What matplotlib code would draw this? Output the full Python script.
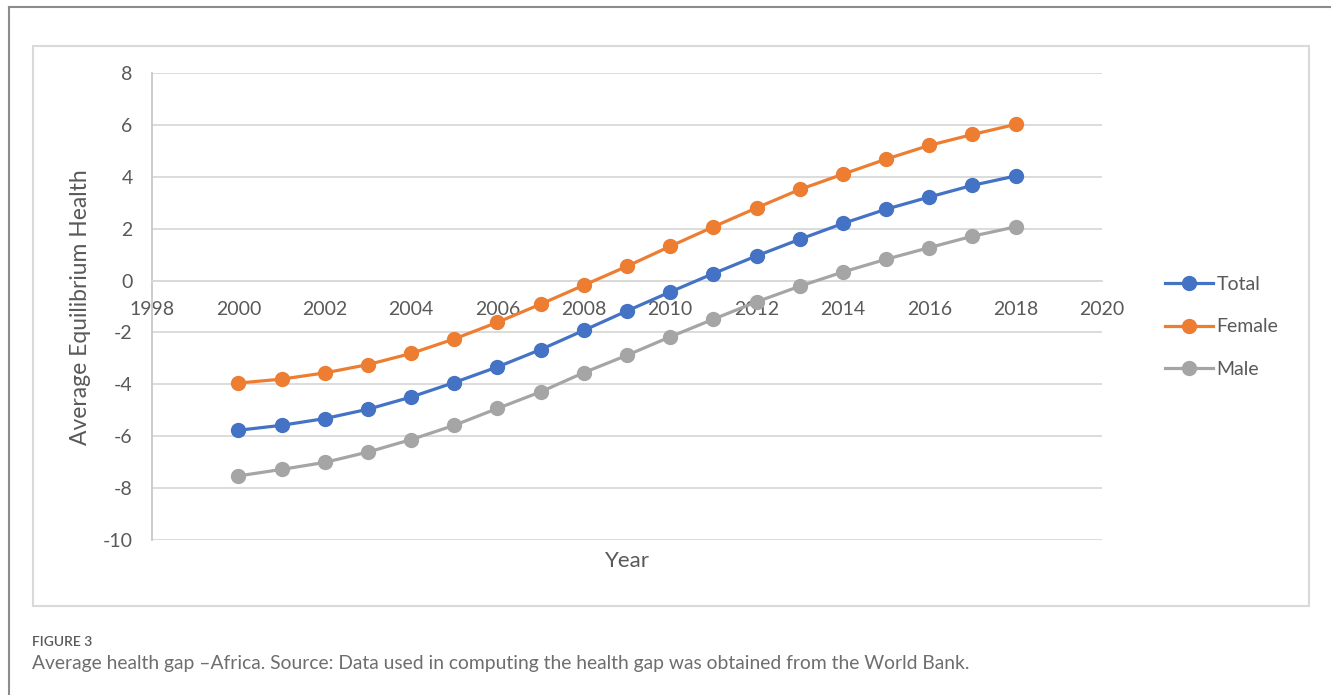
import matplotlib.pyplot as plt
from matplotlib.patches import Rectangle
from matplotlib.lines import Line2D

plt.rcParams['font.family'] = ['Lato', 'DejaVu Sans']
plt.rcParams['axes.unicode_minus'] = False

years = list(range(2000, 2019))
total = [-5.77, -5.58, -5.32, -4.96, -4.49, -3.93, -3.33, -2.66, -1.92, -1.17,
         -0.44, 0.27, 0.95, 1.59, 2.20, 2.75, 3.22, 3.67, 4.03]
female = [-3.95, -3.80, -3.56, -3.24, -2.81, -2.25, -1.61, -0.91, -0.18, 0.55,
          1.32, 2.07, 2.80, 3.51, 4.10, 4.68, 5.21, 5.63, 6.02]
male = [-7.53, -7.28, -7.01, -6.61, -6.13, -5.58, -4.93, -4.29, -3.55, -2.88,
        -2.17, -1.49, -0.82, -0.22, 0.33, 0.82, 1.27, 1.71, 2.07]

series_names = ['Total', 'Female', 'Male']
series_colors = ['#4472C4', '#ED7D31', '#A5A5A5']
x_ticks = list(range(1998, 2021, 2))
y_ticks = list(range(-10, 9, 2))

W, H = 1331, 695
text_grey = '#595959'
grid_grey = '#d9d9d9'


def fx(px):
	return px / W


def fy(py):
	return 1 - py / H


fig = plt.figure(figsize=(W / 100, H / 100), dpi=100)

# page frame (top and left edges only) and the chart box
fig.add_artist(Line2D([fx(9), 1], [fy(7), fy(7)], color='#8c8c8c', lw=1.5))
fig.add_artist(Line2D([fx(9), fx(9)], [fy(7), 0], color='#8c8c8c', lw=1.5))
fig.add_artist(Rectangle((fx(33), fy(606)), fx(1309) - fx(33), fy(46) - fy(606),
                         fill=False, edgecolor=grid_grey, lw=1.5))

ax = fig.add_axes([fx(152), fy(540), fx(1102) - fx(152), fy(73) - fy(540)])

for vals, name, col in zip([total, female, male], series_names, series_colors):
	ax.plot(years, vals, color=col, lw=2.3, marker='o', markersize=10,
	        label=name, zorder=3)

ax.set_xlim(1998, 2020)
ax.set_ylim(-10, 8)
ax.set_xticks(x_ticks)
ax.set_yticks(y_ticks)
ax.grid(axis='y', color=grid_grey, lw=1.3)
ax.set_axisbelow(True)

for s in ['top', 'right']:
	ax.spines[s].set_visible(False)
ax.spines['bottom'].set_position(('data', 0))
ax.spines['bottom'].set_color(grid_grey)
ax.spines['bottom'].set_linewidth(1.3)
ax.spines['left'].set_color('#c8c8c8')
ax.spines['left'].set_linewidth(1.3)

ax.tick_params(axis='both', length=0, labelsize=14, labelcolor=text_grey)
ax.tick_params(axis='x', pad=15)
ax.tick_params(axis='y', pad=14)

fig.text(fx(81), fy(307), 'Average Equilibrium Health', rotation=90,
         ha='center', va='center', fontsize=16.5, color=text_grey)
fig.text(fx(627), fy(561), 'Year', ha='center', va='center',
         fontsize=16, color=text_grey)

ax.legend(loc='center left', bbox_to_anchor=(fx(1165), fy(327)),
          bbox_transform=fig.transFigure, frameon=False, fontsize=14,
          handlelength=2.45, handletextpad=0.2, labelspacing=1.3,
          borderpad=0, borderaxespad=0, labelcolor=text_grey)

fig.text(fx(32), fy(642), 'FIGURE 3', ha='left', va='center',
         fontsize=10, color=text_grey, fontweight='semibold')
fig.text(fx(32), fy(664),
         'Average health gap \u2013Africa. Source: Data used in computing the '
         'health gap was obtained from the World Bank.',
         ha='left', va='center', fontsize=13.9, color='#6e6e6e')

fig.savefig('out.png', dpi=100)
